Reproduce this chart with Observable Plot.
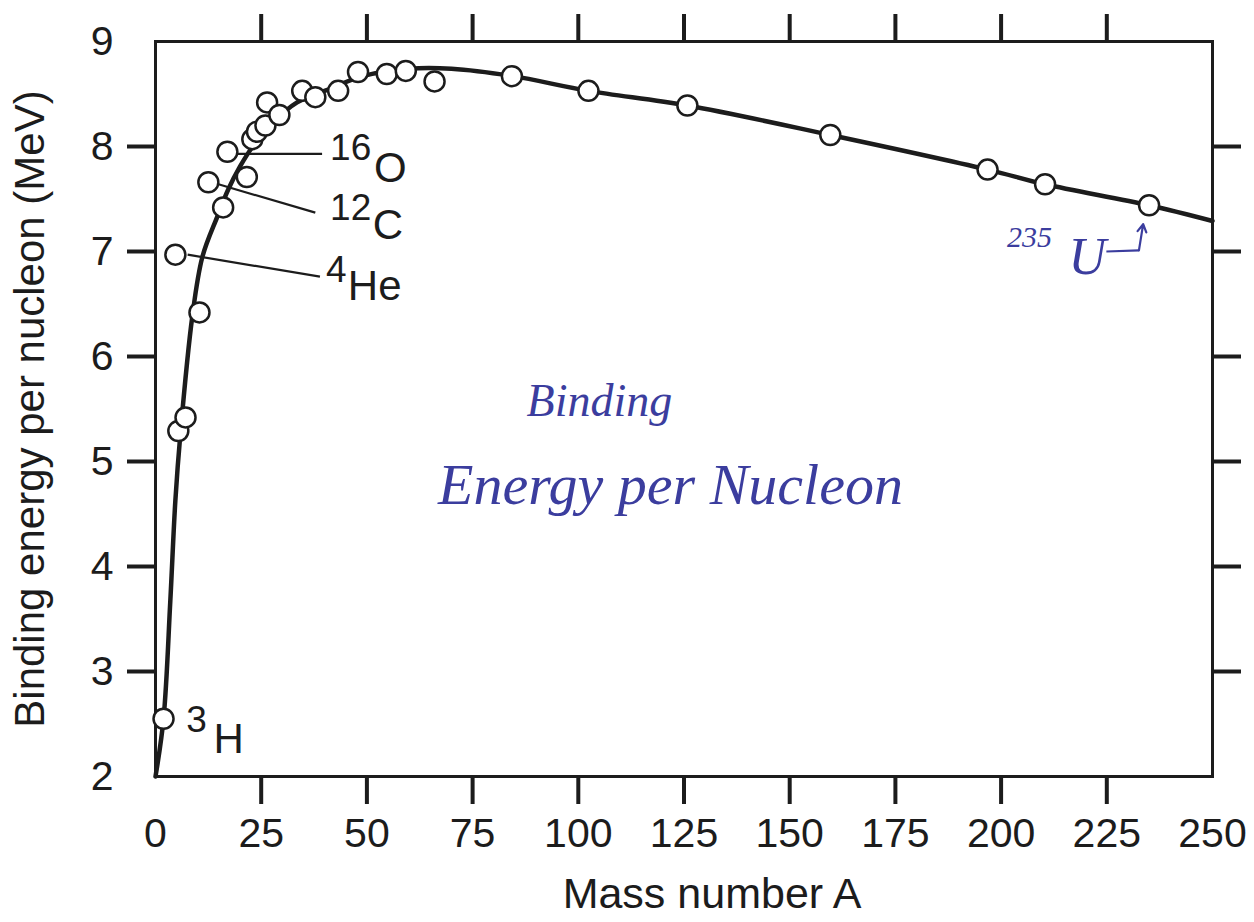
<!DOCTYPE html>
<html>
<head>
<meta charset="utf-8">
<script src="https://cdn.jsdelivr.net/npm/d3@7"></script>
<script src="https://cdn.jsdelivr.net/npm/@observablehq/plot@0.6"></script>
<style>
  html, body { margin: 0; padding: 0; background: #fff; }
  #chart svg { display: block; }
</style>
</head>
<body>
<div id="chart"></div>
<script>
// ---- data ----
// measured nuclides: mass number A and binding energy per nucleon (MeV)
const pointA = [1.9, 4.7, 5.4, 7.1, 10.4, 12.5, 16.0, 17.0, 21.6, 22.9, 24.0, 26.0, 26.4, 29.3, 34.7, 37.8, 43.2, 47.9, 54.7, 59.2, 66.0, 84.3, 102.4, 125.8, 159.6, 196.8, 210.4, 235.0];
const pointE = [2.55, 6.97, 5.29, 5.42, 6.42, 7.66, 7.42, 7.95, 7.71, 8.07, 8.14, 8.20, 8.42, 8.30, 8.53, 8.47, 8.53, 8.71, 8.69, 8.72, 8.62, 8.67, 8.53, 8.39, 8.11, 7.78, 7.64, 7.44];

// smooth trend curve
const curveA = [0, 1.9, 3.5, 4.7, 5.9, 8.7, 11.1, 14.6, 17.2, 20, 23, 27.8, 33.5, 41.3, 49, 60, 70, 84.5, 102.4, 125.8, 159.6, 196.8, 210.4, 235, 250];
const curveE = [2.0, 2.55, 3.67, 4.63, 5.27, 6.38, 6.95, 7.33, 7.59, 7.81, 8.0, 8.23, 8.42, 8.55, 8.67, 8.74, 8.74, 8.67, 8.53, 8.39, 8.11, 7.78, 7.64, 7.44, 7.29];

// axes
const xTickLabels = [0, 25, 50, 75, 100, 125, 150, 175, 200, 225, 250];
const xTickMarks = [25, 50, 75, 100, 125, 150, 175, 200, 225];
const yTickLabels = [2, 3, 4, 5, 6, 7, 8, 9];
const yTickMarks = [3, 4, 5, 6, 7, 8];
const xTitle = "Mass number A";
const yTitle = "Binding energy per nucleon (MeV)";

// nuclide labels (mass number superscript + symbol), anchored in data space
const labelMass = ["16", "12", "4", "3"];
const labelSym = ["O", "C", "He", "H"];
const massA = [41.3, 41.3, 40.3, 7.3];
const massE = [7.98, 7.41, 6.82, 2.54];
const symA = [51.7, 51.4, 45.5, 13.7];
const symE = [7.79, 7.25, 6.67, 2.35];
// leader lines
const leadA1 = [18.4, 14.9, 7.6];
const leadE1 = [7.93, 7.64, 6.97];
const leadA2 = [39.4, 37.8, 38.9];
const leadE2 = [7.93, 7.37, 6.76];

// handwritten notes
const noteText = ["Binding", "Energy per Nucleon"];
const noteA = [105, 121.8];
const noteE = [5.57, 4.77];
const noteSize = [46, 58];
const uMass = "235", uSym = "U";
const uMassA = 206.7, uMassE = 7.13, uSymA = 220.4, uSymE = 6.94;
const arrowA = [224.9, 232.6, 233.6];
const arrowE = [7.0, 7.01, 7.26];

// ---- build tables ----
const points = pointA.map((a, i) => ({A: a, E: pointE[i]}));
const curve = curveA.map((a, i) => ({A: a, E: curveE[i]}));
const masses = labelMass.map((t, i) => ({t, A: massA[i], E: massE[i]}));
const syms = labelSym.map((t, i) => ({t, A: symA[i], E: symE[i]}));
const leads = leadA1.map((a, i) => ({x1: a, y1: leadE1[i], x2: leadA2[i], y2: leadE2[i]}));
const notes = noteText.map((t, i) => ({t, A: noteA[i], E: noteE[i], s: noteSize[i]}));

const ink = "#1c1c1c";
const pen = "#3b3d9e";
const hand = "'Liberation Serif', 'DejaVu Serif', serif";

const chart = Plot.plot({
  width: 1254,
  height: 922,
  marginLeft: 155,
  marginRight: 42,
  marginTop: 41,
  marginBottom: 146,
  style: {fontFamily: "'Liberation Sans', Arial, Helvetica, sans-serif", color: ink, background: "#fff"},
  x: {domain: [0, 250]},
  y: {domain: [2, 9]},
  marks: [
    // tick marks (outward, all four sides)
    Plot.axisX(xTickMarks, {anchor: "bottom", tickSize: 28, strokeWidth: 4, fill: "none", label: null}),
    Plot.axisX(xTickMarks, {anchor: "top", tickSize: 28, strokeWidth: 4, fill: "none", label: null}),
    Plot.axisY(yTickMarks, {anchor: "left", tickSize: 28, strokeWidth: 4, fill: "none", label: null}),
    Plot.axisY(yTickMarks, {anchor: "right", tickSize: 28, strokeWidth: 4, fill: "none", label: null}),
    // tick labels
    Plot.axisX(xTickLabels, {anchor: "bottom", tickSize: 0, tickPadding: 41, fontSize: 41, tickFormat: d3.format("d"), label: null}),
    Plot.axisY(yTickLabels, {anchor: "left", tickSize: 0, tickPadding: 42, fontSize: 41, tickFormat: d3.format("d"), label: null}),
    // axis titles
    Plot.text([xTitle], {frameAnchor: "bottom", dx: 28, dy: 131, fontSize: 43, fill: ink}),
    Plot.text([yTitle], {frameAnchor: "left", textAnchor: "middle", rotate: -90, dx: -125, fontSize: 42, fill: ink}),
    Plot.frame({stroke: ink, strokeWidth: 3}),
    // curve
    Plot.line(curve, {x: "A", y: "E", curve: "catmull-rom", stroke: ink, strokeWidth: 4.5}),
    // leader lines
    Plot.link(leads, {x1: "x1", y1: "y1", x2: "x2", y2: "y2", stroke: ink, strokeWidth: 2.2}),
    // data points
    Plot.dot(points, {x: "A", y: "E", r: 10, fill: "white", stroke: ink, strokeWidth: 2.5}),
    // nuclide labels
    Plot.text(masses, {x: "A", y: "E", text: "t", textAnchor: "start", fontSize: 37, fill: ink}),
    Plot.text(syms, {x: "A", y: "E", text: "t", textAnchor: "start", fontSize: 42, fill: ink}),
    // handwritten notes
    Plot.text(notes.slice(0, 1), {x: "A", y: "E", text: "t", fontSize: noteSize[0], fontStyle: "italic", fontFamily: hand, fill: pen}),
    Plot.text(notes.slice(1), {x: "A", y: "E", text: "t", fontSize: noteSize[1], fontStyle: "italic", fontFamily: hand, fill: pen}),
    Plot.text([uMass], {x: () => uMassA, y: () => uMassE, fontSize: 30, fontFamily: hand, fontStyle: "italic", fill: pen}),
    Plot.text([uSym], {x: () => uSymA, y: () => uSymE, fontSize: 52, fontFamily: hand, fontStyle: "italic", fill: pen}),
    Plot.link([0], {x1: () => arrowA[0], y1: () => arrowE[0], x2: () => arrowA[1], y2: () => arrowE[1], stroke: pen, strokeWidth: 2.2}),
    Plot.arrow([0], {x1: () => arrowA[1], y1: () => arrowE[1], x2: () => arrowA[2], y2: () => arrowE[2], stroke: pen, strokeWidth: 2.2, headLength: 12})
  ]
});
document.getElementById("chart").appendChild(chart);
</script>
</body>
</html>
